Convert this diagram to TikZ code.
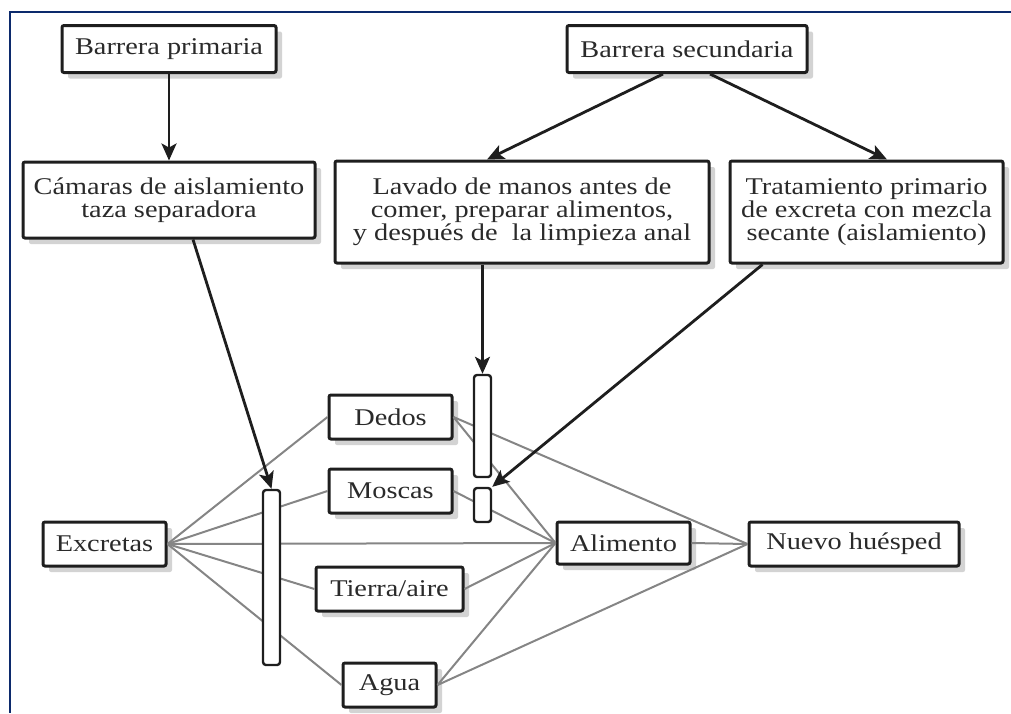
\documentclass[tikz,border=0pt]{standalone}
\usepackage{fontspec}
\setmainfont{Liberation Serif}[FakeStretch=1.18]
\usetikzlibrary{arrows.meta,shadows}

\begin{document}
\begin{tikzpicture}[x=0.5pt,y=-0.5pt,font=\fontsize{12pt}{11.5pt}\selectfont,
  box/.style={draw=edge,line width=1.5pt,fill=white,text=ink,align=center,inner sep=0pt,rounded corners=1pt,
    drop shadow={shadow xshift=3pt,shadow yshift=-3pt,fill=shade,opacity=0.8}},
  bar/.style={draw=edge,line width=1.2pt,fill=white,minimum width=8.5pt,inner sep=0pt,rounded corners=1.5pt},
  route/.style={draw=wire,line width=1pt},
  block/.style={draw=edge,line width=1.4pt,-{Stealth[length=8.5pt,width=7.5pt,inset=2pt]}}]
\definecolor{ink}{HTML}{2A2A2A}\definecolor{edge}{HTML}{1E1E1E}
\definecolor{wire}{HTML}{858585}\definecolor{shade}{HTML}{C8C8C8}
\definecolor{frame}{HTML}{0C2A6C}
\useasboundingbox (0,0) rectangle (1011,713);
\draw[frame,line width=1.3pt] (1011,12) -- (10,12) -- (10,713);
% barriers
\node[box,minimum width=107pt,minimum height=23.5pt] (primaria) at (169,49) {Barrera primaria};
\node[box,minimum width=120pt,minimum height=23.5pt] (secundaria) at (687,49) {Barrera secundaria};
\node[box,minimum width=146pt,minimum height=38pt] (camaras) at (169,200) {Cámaras de aislamiento\\taza separadora};
\node[box,minimum width=187pt,minimum height=51pt] (lavado) at (522,212) {Lavado de manos antes de\\comer, preparar alimentos,\\y después de \ la limpieza anal};
\node[box,minimum width=136.5pt,minimum height=51pt] (tratamiento) at (866.5,212) {Tratamiento primario\\de excreta con mezcla\\secante (aislamiento)};
% transmission routes
\node[box,minimum width=61.5pt,minimum height=22pt] (excretas) at (104.5,544) {Excretas};
\node[box,minimum width=61.5pt,minimum height=22pt] (dedos) at (390.5,417) {Dedos};
\node[box,minimum width=61.5pt,minimum height=22pt] (moscas) at (390.5,491) {Moscas};
\node[box,minimum width=73.5pt,minimum height=22pt] (tierra) at (389.5,589) {Tierra/aire};
\node[box,minimum width=46.5pt,minimum height=22pt] (agua) at (389.5,685) {Agua};
\node[box,minimum width=66.5pt,minimum height=21pt] (alimento) at (623.5,543) {Alimento};
\node[box,minimum width=105pt,minimum height=22pt] (huesped) at (854,544) {Nuevo huésped};
\draw[route] (excretas.east) -- (dedos.west);
\draw[route] (excretas.east) -- (moscas.west);
\draw[route] (excretas.east) -- (alimento.west);
\draw[route] (excretas.east) -- (tierra.west);
\draw[route] (excretas.east) -- (agua.west);
\draw[route] (dedos.east) -- (alimento.west);
\draw[route] (dedos.east) -- (huesped.west);
\draw[route] (moscas.east) -- (alimento.west);
\draw[route] (tierra.east) -- (alimento.west);
\draw[route] (agua.east) -- (alimento.west);
\draw[route] (agua.east) -- (huesped.west);
\draw[route] (alimento.east) -- (huesped.west);
% blocking bars
\node[bar,minimum height=51pt] (barA) at (482.5,426) {};
\node[bar,minimum height=17pt] (barB) at (482.5,505) {};
\node[bar,minimum height=87.5pt] (barC) at (271.5,577.5) {};
\draw[block] (primaria.south) -- (camaras.north);
\draw[block] ([xshift=-12pt]secundaria.south) -- ([xshift=-17.5pt]lavado.north);
\draw[block] ([xshift=11.5pt]secundaria.south) -- ([xshift=10.25pt]tratamiento.north);
\draw[block] ([xshift=12pt]camaras.south) -- (barC.north);
\draw[block] (lavado.south -| barA.north) -- (barA.north);
\draw[block] ([xshift=-52pt]tratamiento.south) -- (barB.north east);
\end{tikzpicture}
\end{document}
